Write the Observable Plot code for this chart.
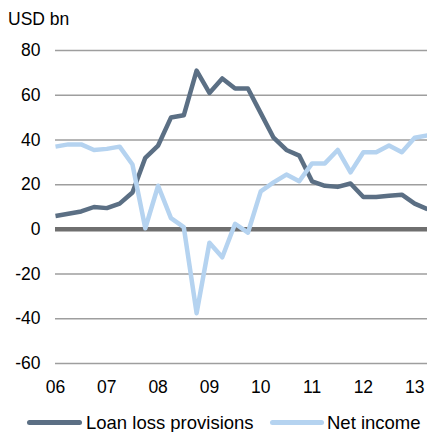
<!DOCTYPE html>
<html>
<head>
<meta charset="utf-8">
<script src="https://cdn.jsdelivr.net/npm/d3@7"></script>
<script src="https://cdn.jsdelivr.net/npm/@observablehq/plot@0.6"></script>
<style>
  body { margin: 0; background: #fff; font-family: "Liberation Sans", Arial, sans-serif; }
  #wrap { position: relative; width: 427px; height: 432px; overflow: hidden; }
  #title { position: absolute; left: 8px; top: 10px; font-size: 17.5px; line-height: 18px; color: #000; }
  #chart { position: absolute; left: 0; top: 30px; }
  #legend { position: absolute; left: 0; top: 413px; width: 427px; height: 19px; font-size: 18.5px; line-height: 19px; color: #000; }
  .sw { position: absolute; top: 7px; height: 5px; border-radius: 3px; }
  .lt { position: absolute; top: 0px; white-space: nowrap; }
</style>
</head>
<body>
<div id="wrap">
  <div id="title">USD bn</div>
  <div id="chart"></div>
  <div id="legend"></div>
</div>
<script>
// Quarterly index 0 = Q1 2006 ... 29 = Q2 2013
const quarterIndex = d3.range(30);
const loanLossProvisions = [6, 7, 8, 10, 9.5, 11.5, 16.5, 32, 37.5, 50, 51, 71, 61, 67.5, 63, 63, 52, 41, 35.5, 33, 21.5, 19.5, 19, 20.5, 14.5, 14.5, 15, 15.5, 11.5, 9];
const netIncome = [37, 38, 38, 35.5, 36, 37, 29, 0.5, 19.5, 5, 1, -37.5, -6, -12.5, 2.5, -1.5, 17, 21, 24.5, 21.5, 29.5, 29.5, 35.5, 25.5, 34.5, 34.5, 37.5, 34.5, 41, 42];
const yearTickIndex = [0, 4, 8, 12, 16, 20, 24, 28];
const yearTickLabels = ["06", "07", "08", "09", "10", "11", "12", "13"];
const yTicks = [-60, -40, -20, 0, 20, 40, 60, 80];
const seriesNames = ["Loan loss provisions", "Net income"];
const seriesColors = ["#5b6f84", "#b5d3f0"];

const rows = [];
quarterIndex.forEach((q, i) => {
  rows.push({q, value: loanLossProvisions[i], series: seriesNames[0]});
  rows.push({q, value: netIncome[i], series: seriesNames[1]});
});

const xFmt = (d) => yearTickLabels[yearTickIndex.indexOf(d)];
const yFmt = (d) => String(d);

const chart = Plot.plot({
  width: 427,
  height: 370,
  marginLeft: 55,
  marginRight: 0,
  marginTop: 20,
  marginBottom: 37,
  style: {fontFamily: "Liberation Sans, Arial, sans-serif", fontSize: "17.5px", color: "#000", background: "transparent"},
  x: {type: "linear", domain: [0, 29], ticks: yearTickIndex, tickFormat: xFmt, tickSize: 0, tickPadding: 17, label: null},
  y: {domain: [-60, 80], ticks: yTicks, tickFormat: yFmt, tickSize: 0, tickPadding: 15, label: null},
  color: {domain: seriesNames, range: seriesColors},
  marks: [
    Plot.ruleY(yTicks.filter(d => d !== 0), {stroke: "#9e9e9e", strokeWidth: 1.5, strokeOpacity: 1}),
    Plot.ruleY([0], {stroke: "#6f6f6f", strokeWidth: 4.5}),
    Plot.axisX({ticks: yearTickIndex, tickFormat: xFmt, tickSize: 0, tickPadding: 17, fontSize: 17.5, label: null}),
    Plot.axisY({ticks: yTicks, tickFormat: yFmt, tickSize: 0, tickPadding: 15, fontSize: 17.5, label: null}),
    Plot.line(rows, {x: "q", y: "value", z: "series", stroke: "series", strokeWidth: 4.5, strokeLinejoin: "round", strokeLinecap: "butt"})
  ]
});
document.getElementById("chart").appendChild(chart);

const legend = document.getElementById("legend");
const legendPos = [{sw: 27, swW: 55, tx: 86}, {sw: 270, swW: 54, tx: 327}];
seriesNames.forEach((name, i) => {
  const s = document.createElement("div");
  s.className = "sw";
  s.style.left = legendPos[i].sw + "px";
  s.style.width = legendPos[i].swW + "px";
  s.style.background = seriesColors[i];
  legend.appendChild(s);
  const t = document.createElement("div");
  t.className = "lt";
  t.style.left = legendPos[i].tx + "px";
  t.textContent = name;
  legend.appendChild(t);
});
</script>
</body>
</html>
